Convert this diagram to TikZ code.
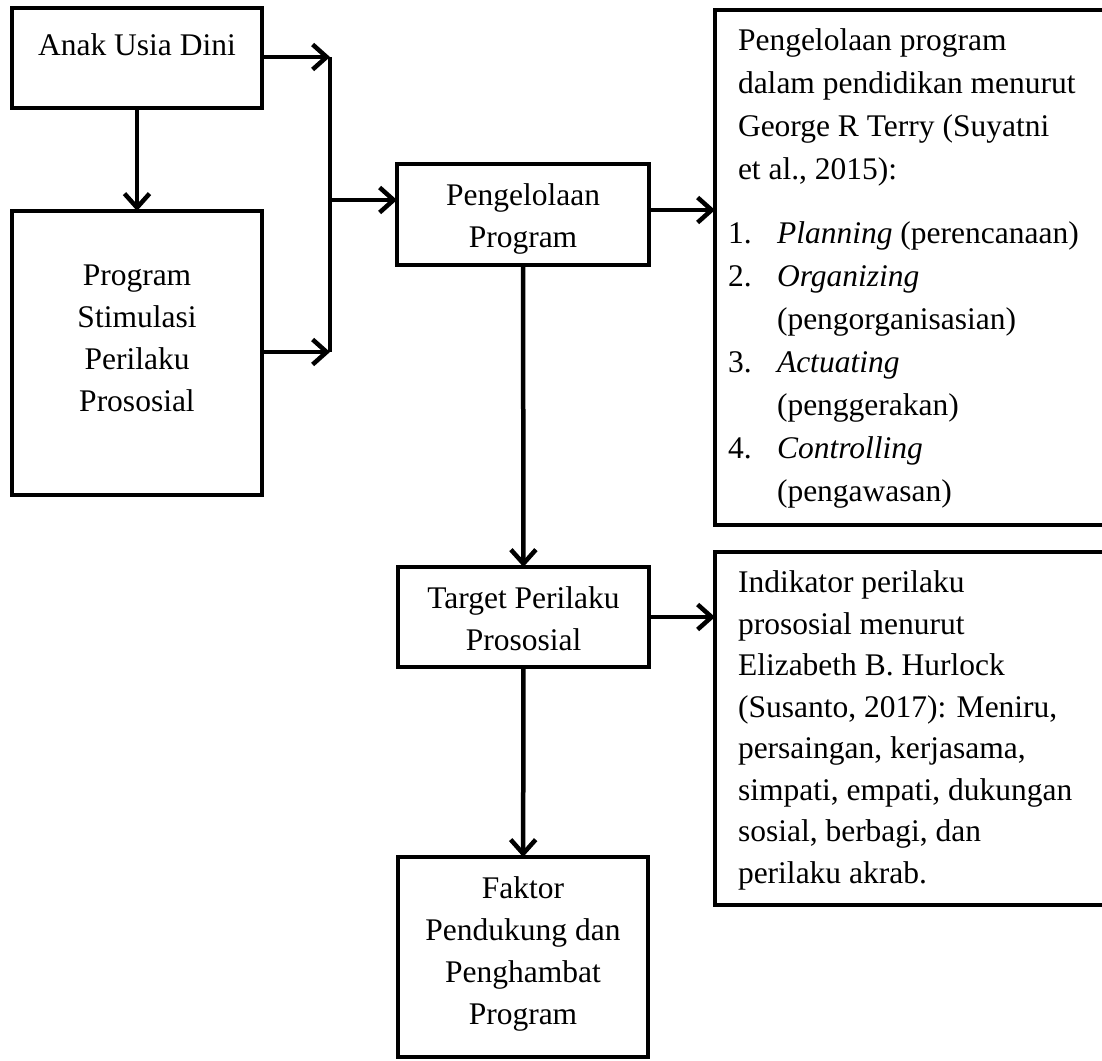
\documentclass[tikz,border=0pt]{standalone}
\usepackage{fontspec}
\setmainfont{Liberation Serif}
\usetikzlibrary{positioning, arrows.meta}
\tikzset{kotak/.style={draw, line width=4.5pt, inner sep=0pt, outer sep=0pt}}
\tikzset{arr/.style={draw, line width=4.5pt, -{Straight Barb[length=14pt, width=25pt]}}}
\tikzset{garis/.style={draw, line width=4.5pt}}
\tikzset{teks/.style={font=\fontsize{31.5}{42}\selectfont}}
% isi kotak: lebar, tinggi, jarak atas, teks
\newcommand\isitengah[4]{\parbox[c][#2][t]{#1}{\vspace*{#3}\centering\strut #4}}
\newcommand\isikiri[4]{\parbox[c][#2][t]{395pt}{\fontsize{31.5}{#1}\selectfont\vspace*{#3}\raggedright\leftskip=23pt\relax\strut #4}}

\begin{document}
\begin{tikzpicture}[x=1pt, y=-1pt, every node/.style={teks}]
		\useasboundingbox (0,0) rectangle (1102,1060);
		\node[kotak] (anak) at (137,58) {\isitengah{250pt}{100pt}{17.6pt}{Anak Usia Dini}};
		\node[kotak] (stimulasi) at (137,353) {\isitengah{250pt}{284pt}{44.6pt}{Program\\Stimulasi\\Perilaku\\Prososial}};
		\node[kotak] (kelola) at (523,214.5) {\isitengah{252pt}{101pt}{11.6pt}{Pengelolaan\\Program}};
		\node[kotak] (target) at (523.5,617) {\isitengah{251pt}{100pt}{11.6pt}{Target Perilaku\\Prososial}};
		\node[kotak] (faktor) at (523,957) {\isitengah{250pt}{200pt}{11.6pt}{Faktor\\Pendukung dan\\Penghambat\\Program}};
		\node[kotak] (terry) at (912.5,267.5) {\isikiri{43pt}{515pt}{9.9pt}{Pengelolaan program\\
			dalam pendidikan menurut\\
			George R Terry (Suyatni\\
			et al., 2015):\\[21pt]
			\hspace*{-10pt}\makebox[49pt][l]{1.}\textit{Planning} (perencanaan)\\
			\hspace*{-10pt}\makebox[49pt][l]{2.}\textit{Organizing}\\
			\hspace*{39pt}(pengorganisasian)\\
			\hspace*{-10pt}\makebox[49pt][l]{3.}\textit{Actuating}\\
			\hspace*{39pt}(penggerakan)\\
			\hspace*{-10pt}\makebox[49pt][l]{4.}\textit{Controlling}\\
			\hspace*{39pt}(pengawasan)}};
		\node[kotak] (hurlock) at (912.5,728.5) {\isikiri{41.5pt}{353pt}{11.9pt}{Indikator perilaku\\
			prososial menurut\\
			Elizabeth B. Hurlock\\
			(Susanto, 2017): Meniru,\\
			persaingan, kerjasama,\\
			simpati, empati, dukungan\\
			sosial, berbagi, dan\\
			perilaku akrab.}};
		% titik pada garis penggabung
		\coordinate (jatas) at (330,57);
		\coordinate (jbawah) at (330,352);
		\coordinate (jtengah) at (330,200);
		\coordinate (kelolakanan) at ([yshift=4.5pt]kelola.east);
		\draw[arr] (anak) -- (stimulasi);
		\draw[arr] (anak.east |- jatas) -- (jatas);
		\draw[arr] (stimulasi.east |- jbawah) -- (jbawah);
		\draw[garis] (jatas) -- (jbawah);
		\draw[arr] (jtengah) -- (kelola.west |- jtengah);
		\draw[arr] (kelolakanan) -- (terry.west |- kelolakanan);
		\draw[arr] (kelola) -- (target);
		\draw[arr] (target) -- (hurlock.west |- target);
		\draw[arr] (target) -- (faktor);
\end{tikzpicture}
\end{document}
